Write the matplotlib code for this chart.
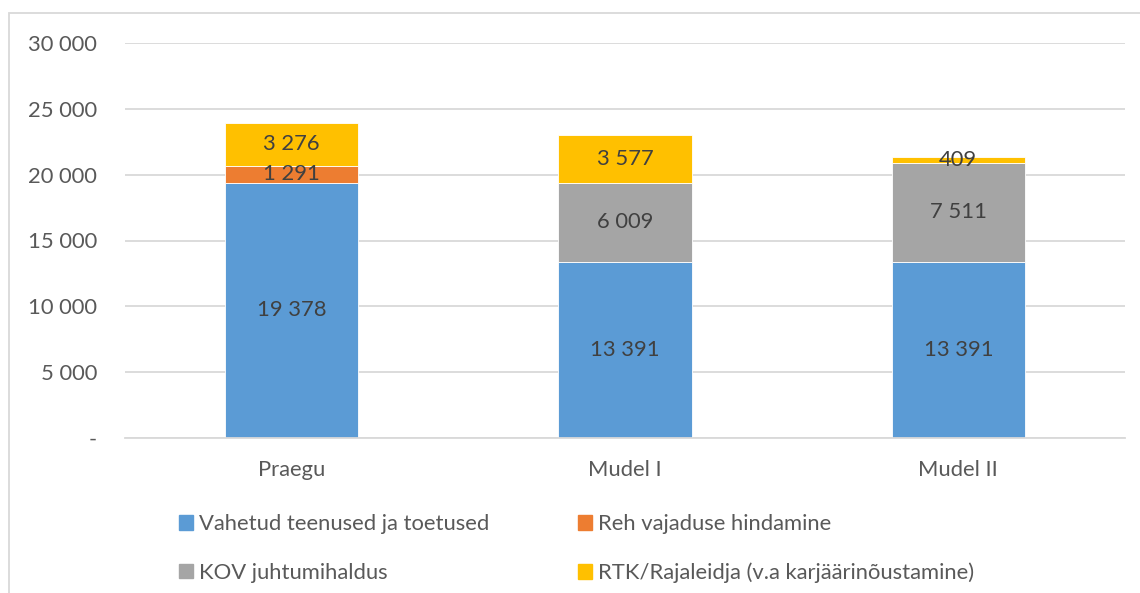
import matplotlib.pyplot as plt
import matplotlib.patches as mpatches
from matplotlib.ticker import FuncFormatter
import numpy as np

plt.rcParams['font.family'] = ['Lato', 'DejaVu Sans']

categories = ['Praegu', 'Mudel I', 'Mudel II']
series_names = ['Vahetud teenused ja toetused', 'Reh vajaduse hindamine',
                'KOV juhtumihaldus', 'RTK/Rajaleidja (v.a karjäärinõustamine)']
vahetud = [19378, 13391, 13391]
reh = [1291, 0, 0]
kov = [0, 6009, 7511]
rtk = [3276, 3577, 409]
colors = ['#5B9BD5', '#ED7D31', '#A5A5A5', '#FFC000']

fs = 15.8

def fmt(v):
    return '{:,}'.format(int(v)).replace(',', ' ')

fig = plt.figure(figsize=(11.4, 5.93), dpi=100)
ax = fig.add_axes([125/1140, 1-438/593, 1000/1140, (438-43)/593])

x = np.arange(len(categories))
bottom = np.zeros(len(categories))
for vals, col in zip([vahetud, reh, kov, rtk], colors):
    ax.bar(x, vals, 0.4, bottom=bottom, color=col, edgecolor='white', linewidth=0.6, zorder=2)
    for xi, v, b in zip(x, vals, bottom):
        if v > 0:
            ax.text(xi, b + v/2, fmt(v), ha='center', va='center', fontsize=fs, color='#404040', zorder=3)
    bottom += np.array(vals)

ax.set_xlim(-0.5, 2.5)
ax.set_ylim(0, 30000)
ax.set_yticks(range(0, 30001, 5000))
ax.yaxis.set_major_formatter(FuncFormatter(lambda v, p: '-' if v == 0 else fmt(v)))
ax.set_xticks(x)
ax.set_xticklabels(categories)
ax.tick_params(axis='both', length=0, labelsize=fs, colors='#595959')
ax.tick_params(axis='x', pad=16)
ax.tick_params(axis='y', pad=20)
ax.grid(axis='y', color='#D9D9D9', linewidth=1.3, zorder=0)
ax.set_axisbelow(True)
for s in ['top', 'right', 'left']:
    ax.spines[s].set_visible(False)
ax.spines['bottom'].set_color('#D9D9D9')
ax.spines['bottom'].set_linewidth(1.3)

# legend as two columns
handles = [mpatches.Patch(color=c) for c in colors]
leg_kw = dict(frameon=False, fontsize=fs, handlelength=0.64, handleheight=0.64,
              handletextpad=0.28, labelspacing=1.3, labelcolor='#595959',
              loc='upper left', borderaxespad=0, borderpad=0)
l1 = fig.legend([handles[0], handles[2]], [series_names[0], series_names[2]],
                bbox_to_anchor=(179/1140, 1-514/593), **leg_kw)
l2 = fig.legend([handles[1], handles[3]], [series_names[1], series_names[3]],
                bbox_to_anchor=(578/1140, 1-514/593), **leg_kw)

# chart border
fig.add_artist(mpatches.Rectangle((8.5/1140, -0.1), 1.2, 1.1 - 13.5/593,
                                  transform=fig.transFigure, fill=False,
                                  edgecolor='#D9D9D9', linewidth=1.3))

fig.savefig('out.png', dpi=100)
